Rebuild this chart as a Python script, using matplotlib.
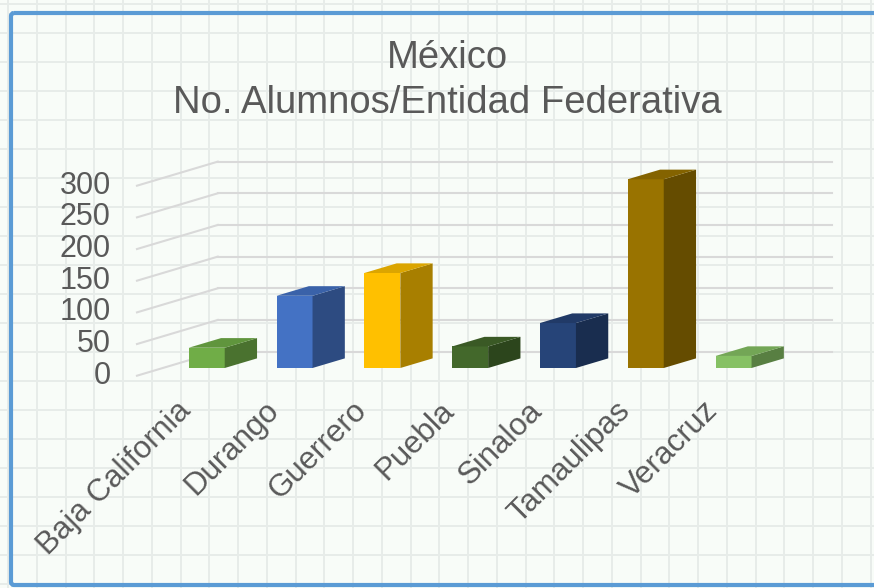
import numpy as np
import matplotlib
matplotlib.use('Agg')
import matplotlib.pyplot as plt
from matplotlib.patches import Polygon, FancyBboxPatch
from matplotlib.colors import to_rgb

plt.rcParams['font.family'] = ['Liberation Sans', 'DejaVu Sans']

# Data
estados = ['Baja California', 'Durango', 'Guerrero', 'Puebla', 'Sinaloa', 'Tamaulipas', 'Veracruz']
alumnos = [32, 114, 150, 34, 71, 298, 19]
colores = ['#70AD47', '#4472C4', '#FFC000', '#43682B', '#264478', '#997300', '#86C164']
y_ticks = [0, 50, 100, 150, 200, 250, 300]

TEXT = '#595959'
GRID = '#d9d9d9'

# 3D (oblique) look of the Excel chart
DX, DY = 0.92, 38.0        # depth offset of the back wall (x in categories, y in values)
F0, FD = 0.32, 0.40        # bar front position / bar depth as fraction of depth
BAR_W = 0.41


def shade(c, k):
    r, g, b = to_rgb(c)
    return (r * k, g * k, b * k)


def main():
    fig = plt.figure(figsize=(8.74, 5.88), dpi=100)

    # background: spreadsheet cells behind the chart (pixel coords)
    bg = fig.add_axes([0, 0, 1, 1])
    bg.set_xlim(0, 874)
    bg.set_ylim(588, 0)
    bg.axis('off')
    bg.add_patch(plt.Rectangle((0, 0), 874, 588, color='#f8fcf8', zorder=0))
    for x in np.arange(8, 874, 28.75):
        bg.axvline(x, color='#e7ece9', lw=1.4, zorder=1)
    for y in np.arange(4, 588, 29.0):
        bg.axhline(y, color='#e7ece9', lw=1.4, zorder=1)
    bg.add_patch(FancyBboxPatch((11, 13), 900, 572, boxstyle='round,pad=0,rounding_size=3',
                                fill=False, ec='#5B9BD5', lw=3, zorder=2))

    # chart axes: x in categories, y in values, mapped on the picture
    ax = fig.add_axes([0, 0, 1, 1])
    ax.patch.set_alpha(0)
    ax.set_xlim(-1.560, 8.394)
    ax.set_ylim(-335.2, 593.2)
    ax.axis('off')

    n = len(estados)
    # walls: left side gridlines and back wall gridlines
    for v in y_ticks:
        ax.plot([0, DX], [v, v + DY], color=GRID, lw=1.5, zorder=1)
        ax.plot([DX, n + DX], [v + DY, v + DY], color=GRID, lw=1.5, zorder=1)
        ax.text(-0.30, v, str(v), ha='right', va='center', fontsize=22, color=TEXT)

    # bars
    x0 = np.arange(n) + 0.5 - BAR_W / 2 + F0 * DX
    base = F0 * DY
    ddx, ddy = FD * DX, FD * DY
    for xi, h, c in zip(x0, alumnos, colores):
        ax.bar(xi, h, width=BAR_W, bottom=base, align='edge', color=c, lw=0, zorder=3)
        top = base + h
        side = [(xi + BAR_W, base), (xi + BAR_W, top),
                (xi + BAR_W + ddx, top + ddy), (xi + BAR_W + ddx, base + ddy)]
        roof = [(xi, top), (xi + BAR_W, top),
                (xi + BAR_W + ddx, top + ddy), (xi + ddx, top + ddy)]
        ax.add_patch(Polygon(side, closed=True, color=shade(c, 0.66), lw=0, zorder=3))
        ax.add_patch(Polygon(roof, closed=True, color=shade(c, 0.86), lw=0, zorder=3))

    # category labels
    for i, name in enumerate(estados):
        ax.text(i + 0.56, -48, name, rotation=45, rotation_mode='anchor',
                ha='right', va='center', fontsize=22.5, color=TEXT)

    # title
    fig.text(0.512, 1 - 68 / 588, 'México', ha='center', va='baseline', fontsize=27.5, color=TEXT)
    fig.text(0.512, 1 - 113 / 588, 'No. Alumnos/Entidad Federativa', ha='center',
             va='baseline', fontsize=27.5, color=TEXT)

    fig.savefig('out.png', dpi=100)


if __name__ == '__main__':
    main()
